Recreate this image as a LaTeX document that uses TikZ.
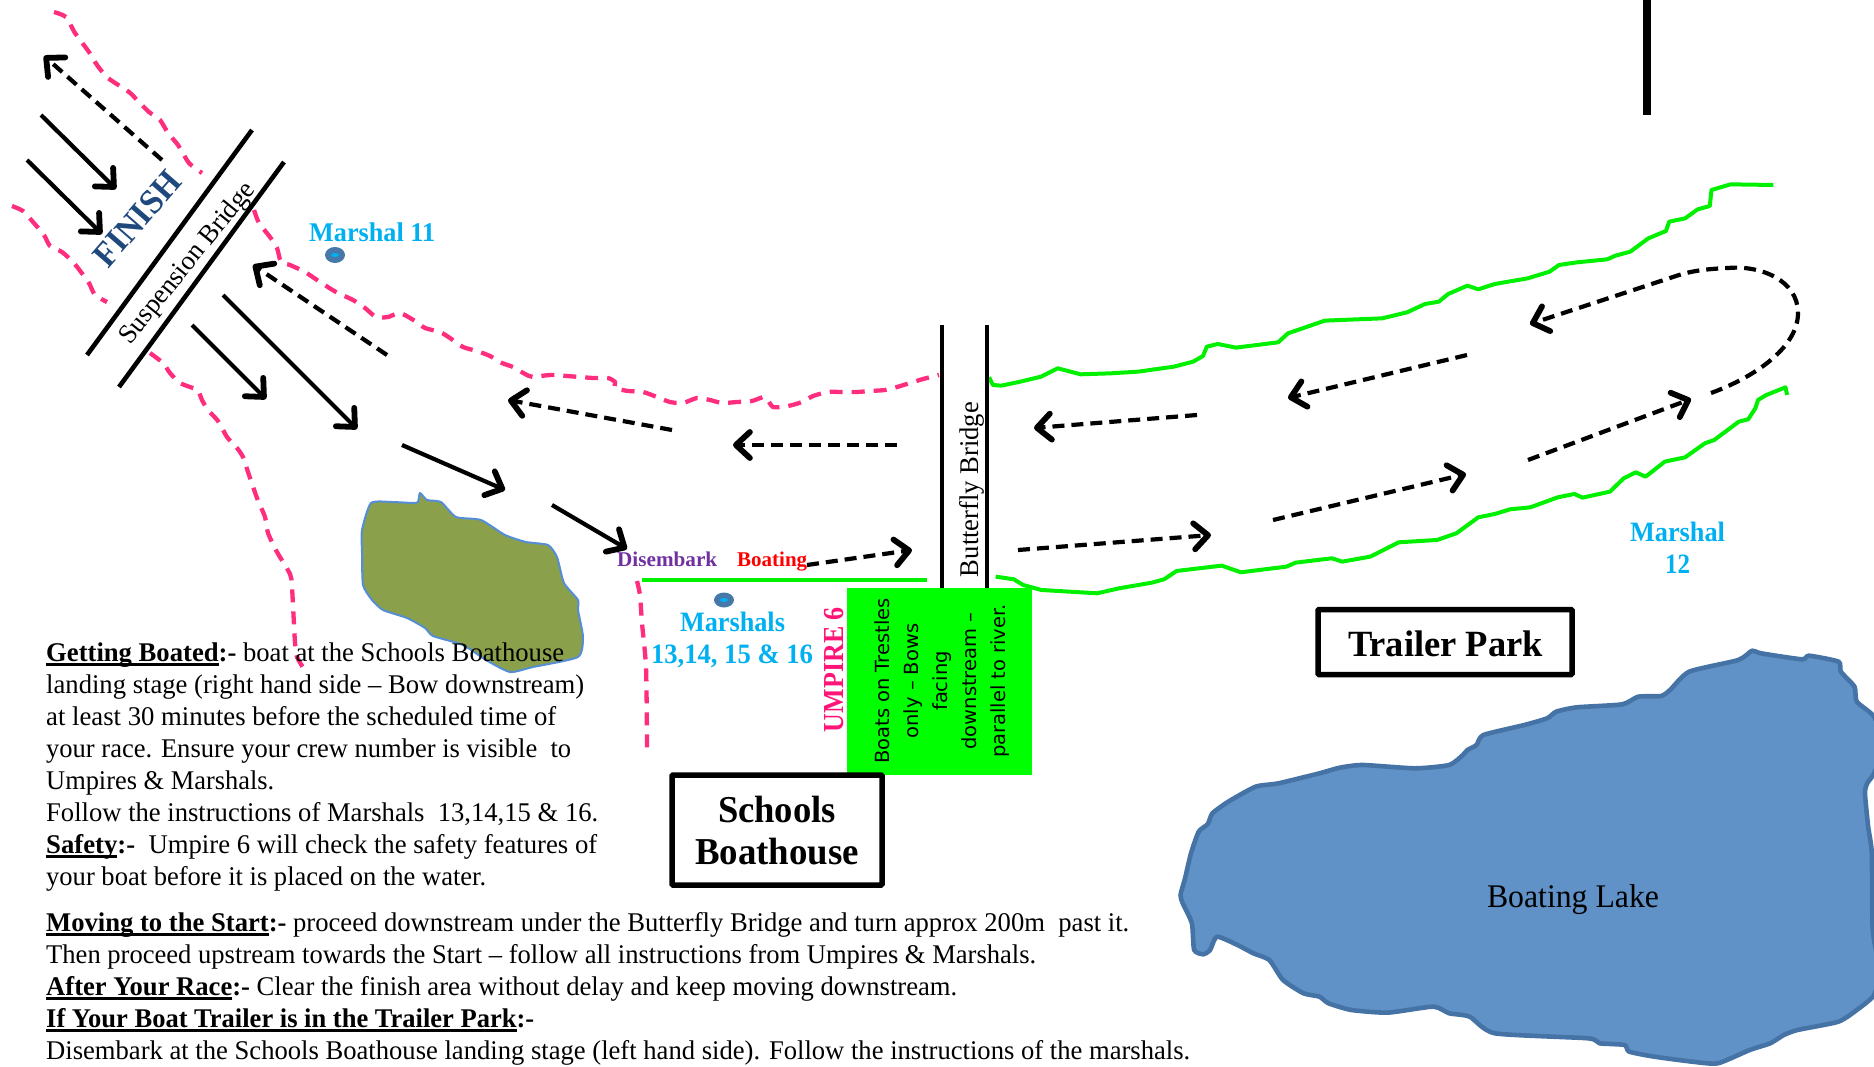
\documentclass[tikz,border=0pt]{standalone}
\usepackage{fontspec}
\usepackage{graphicx}
\setmainfont{Liberation Serif}
\newfontfamily\gfont{DejaVu Sans}
\usetikzlibrary{arrows.meta}
\definecolor{pinkbank}{RGB}{255,45,125}
\definecolor{umpink}{RGB}{255,20,120}
\definecolor{riverg}{RGB}{0,240,0}
\definecolor{boxg}{RGB}{0,255,0}
\definecolor{cyanm}{RGB}{0,176,240}
\definecolor{dotb}{RGB}{70,120,170}
\definecolor{lakef}{RGB}{96,146,199}
\definecolor{lakes}{RGB}{70,115,165}
\definecolor{islf}{RGB}{139,160,75}
\definecolor{isls}{RGB}{85,142,213}
\definecolor{finb}{RGB}{31,73,125}
\definecolor{purp}{RGB}{112,48,160}
\newcommand\fit[2]{\resizebox{#1pt}{\height}{#2}}
\newcommand\ulh[1]{\setbox0\hbox{\textbf{#1}}\rlap{\raisebox{-5pt}{\rule{\wd0}{3.2pt}}}\box0}
\tikzset{
  bank/.style={pinkbank,line width=4.3pt,dash pattern=on 13pt off 9pt,line join=round},
  river/.style={riverg,line width=4pt,line join=round},
  bridge/.style={black,line width=4.6pt},
  flow/.style={black,line width=4.2pt,-{Straight Barb[length=14pt,width=26pt,line width=5.8pt,round]}},
  dflow/.style={flow,dash pattern=on 12pt off 7pt},
  tline/.style={anchor=base west,inner sep=0pt,font=\fontsize{27}{30}\selectfont},
  lab/.style={anchor=base,inner sep=0pt},
  bigbox/.style={draw=black,line width=5.5pt,rounded corners=1pt,fill=white,inner sep=0pt},
  z3/.style={shift={(960pt,-150pt)},x=0.5485pt,y=-0.3333pt},
  z4/.style={shift={(1160pt,-620pt)},x=0.4554pt,y=-0.3333pt},
  dotout/.style={fill=dotb,draw=none},
  dotin/.style={fill=cyanm,draw=none}
}
\begin{document}
\begin{tikzpicture}[x=1pt,y=-1pt]
\useasboundingbox (0,0) rectangle (1874,1066);
\clip (0,0) rectangle (1874,1066);
% lake
\begin{scope}[z4]
\draw[fill=lakef,draw=lakes,line width=4.6pt,line join=round] plot[smooth cycle,tension=0.35] coordinates {
(45,825)(55,775)(68,700)(85,635)(105,612)(115,580)(150,545)(210,500)(260,490)(350,460)(395,443)(445,435)(560,445)(635,435)(665,405)(675,390)(695,375)(710,345)(800,315)(850,295)(870,275)(915,262)(1015,253)(1050,230)(1100,228)(1120,210)(1162,155)(1270,120)(1300,92)(1320,100)(1410,118)(1425,107)(1490,125)(1495,155)(1525,200)(1530,245)(1568,290)(1590,380)(1568,460)(1553,490)(1548,520)(1555,620)(1563,700)(1565,930)(1580,1050)(1568,1125)(1535,1165)(1490,1205)(1400,1230)(1370,1245)(1340,1270)(1295,1290)(1225,1330)(1168,1325)(1085,1310)(1030,1295)(1020,1275)(965,1270)(940,1255)(735,1240)(680,1190)(635,1180)(600,1160)(500,1178)(420,1170)(370,1150)(350,1130)(315,1120)(270,1080)(240,1020)(205,1000)(170,975)(125,950)(110,990)(95,1003)(75,990)(70,910)(50,850)};
\end{scope}
% island
\draw[fill=islf,draw=isls,line width=2pt,line join=round] plot[smooth cycle,tension=0.35] coordinates {
(362,530)(362,553)(363,585)(372,600)(383,610)(407,618)(425,628)(433,636)(463,645)(486,660)(510,672)(533,667)(578,657)(583,637)(578,610)(578,600)(564,583)(557,557)(548,545)(526,542)(505,535)(481,520)(456,517)(441,502)(427,500)(420,493)(418,502)(413,503)(392,502)(371,503)};
% pink banks
\draw[bank] plot[smooth,tension=0.4] coordinates {(54,12)(66,17)(75,33)(89,52)(97,65)(108,78)(129,92)(137,100)(149,112)(160,120)(168,133)(178,145)(189,163)(202,173)};
\draw[bank] plot[smooth,tension=0.4] coordinates {(12,206)(23,211)(33,222)(44,235)(50,246)(62,252)(73,262)(81,272)(89,283)(95,295)(107,302)};
\draw[bank] plot[smooth,tension=0.4] coordinates {(254,210)(259,223)(270,237)(277,248)(281,262)(290,265)(305,272)(320,282)(336,292)(353,300)(365,308)(376,317)(388,317)(400,313)(415,321)(425,328)(440,332)(450,338)(463,347)(477,351)(490,356)(502,363)(513,367)(525,374)(533,377)(552,375)(593,378)(608,378)(615,382)(615,388)(628,391)(643,392)(657,397)(670,402)(683,403)(697,398)(710,400)(722,403)(737,402)(752,401)(765,397)(773,407)(788,406)(802,402)(813,396)(828,392)(842,392)(857,392)(870,391)(885,390)(897,387)(910,383)(923,379)(939,375)};
\draw[bank] plot[smooth,tension=0.4] coordinates {(150,353)(163,363)(170,373)(180,383)(193,388)(198,390)(202,400)(208,410)(218,421)(227,437)(237,448)(243,457)(248,472)(257,498)(265,517)(268,533)(277,552)(290,574)(292,587)(295,643)(297,657)(304,669)};
\draw[bank] plot[smooth,tension=0.4] coordinates {(637,581)(640,595)(642,623)(646,667)(647,737)(647,750)};
% green rivers
\begin{scope}[z3]
\draw[river] plot coordinates {(53,682)(60,705)(75,707)(110,695)(148,680)(178,655)(220,673)(275,670)(325,665)(390,650)(425,635)(443,618)(450,590)(470,582)(503,593)(580,577)(598,550)(665,512)(770,505)(815,487)(848,462)(873,455)(890,432)(925,407)(945,418)(975,402)(1035,385)(1075,365)(1092,345)(1125,337)(1180,328)(1195,317)(1222,305)(1255,265)(1287,243)(1293,215)(1322,205)(1345,178)(1367,168)(1370,120)(1405,103)(1483,105)};
\draw[river] plot coordinates {(65,1280)(98,1288)(115,1305)(148,1320)(250,1330)(290,1315)(350,1298)(372,1288)(395,1263)(477,1247)(512,1267)(595,1250)(612,1238)(678,1225)(697,1235)(748,1220)(800,1177)(870,1170)(905,1150)(945,1102)(975,1092)(1003,1078)(1040,1072)(1090,1042)(1120,1032)(1135,1043)(1185,1025)(1210,985)(1232,967)(1250,980)(1285,935)(1322,922)(1358,880)(1375,870)(1420,815)(1437,808)(1450,775)(1455,750)(1470,735)(1505,712)(1508,735)};
\end{scope}
\draw[river] (642,580) -- (927,580);
% bridges
\draw[bridge] (252,130) -- (87,355);
\draw[bridge] (284,162) -- (119,387);
\draw[bridge] (942,325) -- (942,590);
\draw[bridge] (987,325) -- (987,590);
\draw[black,line width=8pt] (1647,0) -- (1647,115);
% solid flows
\draw[flow] (41,115) -- (116,189);
\draw[flow] (27,160) -- (102,234);
\draw[flow] (192,325) -- (266,399);
\draw[flow] (223,295) -- (357,429);
\draw[flow] (402,445) -- (505,490);
\draw[flow] (552,505) -- (627,549);
% dashed flows
\draw[dflow] (162,160) -- (44,56);
\draw[dflow] (387,355) -- (253,265);
\draw[dflow] (672,430) -- (508,400);
\draw[dflow] (897,445) -- (733,445);
\draw[dflow] (807,565) -- (912,550);
\draw[dflow] (1197,415) -- (1034,428);
\draw[dflow] (1467,355) -- (1288,398);
\draw[dflow] (1018,550) -- (1211,535);
\draw[dflow] (1273,520) -- (1466,474);
\draw[dflow] (1528,460) -- (1691,399);
\draw[dflow] (1711,393) .. controls (1760,375) and (1798,345) .. (1798,313) .. controls (1798,280) and (1760,265) .. (1728,268) .. controls (1705,269) and (1690,271) .. (1673,277) -- (1530,324);
% green box
\node[fill=boxg,inner sep=0pt,minimum width=185pt,minimum height=187pt] (trestle) at (939.5,681.5) {};
\node[rotate=90,inner sep=0pt,align=center,font=\gfont\fontsize{19.5}{29}\selectfont] (trestletext) at (942,681) {Boats on Trestles\\only – Bows\\facing\\downstream –\\parallel to river.};
% boxes
\node[bigbox,minimum width=210pt,minimum height=110pt] (schools) at (777,830) {};
\node[lab] (schoolsa) at (777,822) {\fit{118}{\fontsize{38}{40}\selectfont\textbf{Schools}}};
\node[lab] (schoolsb) at (777,864) {\fit{164}{\fontsize{38}{40}\selectfont\textbf{Boathouse}}};
\node[bigbox,minimum width=254pt,minimum height=65pt] (trailer) at (1445,642) {};
\node[lab] (trailertext) at (1445.5,656) {\fit{195}{\fontsize{37}{40}\selectfont\textbf{Trailer Park}}};
\node[lab] (lake) at (1573,907) {\fit{172}{\fontsize{33}{36}\selectfont Boating Lake}};
% marshals
\fill[dotout] (335,255) ellipse [x radius=10,y radius=8];
\fill[dotin] (335,255) ellipse [x radius=4,y radius=2];
\fill[dotout] (724,600) ellipse [x radius=10,y radius=7.5];
\fill[dotin] (724,600) ellipse [x radius=4,y radius=2];
\node[lab,anchor=base west,text=cyanm] (m11) at (309,241) {\fit{126}{\fontsize{27}{28}\selectfont\textbf{Marshal 11}}};
\node[lab,text=cyanm] (m13a) at (732.5,631) {\fit{105}{\fontsize{28}{30}\selectfont\textbf{Marshals}}};
\node[lab,text=cyanm] (m13b) at (732,663) {\fit{162}{\fontsize{28}{30}\selectfont\textbf{13,14, 15 \& 16}}};
\node[lab,text=cyanm] (m12a) at (1677.5,541) {\fit{95}{\fontsize{28}{30}\selectfont\textbf{Marshal}}};
\node[lab,text=cyanm] (m12b) at (1677.5,573) {\fit{25}{\fontsize{28}{30}\selectfont\textbf{12}}};
\node[lab,anchor=base west,text=purp] (dis) at (617,566) {\fit{100}{\fontsize{21}{24}\selectfont\textbf{Disembark}}};
\node[lab,anchor=base west,text=red] (boat) at (737,566) {\fit{70}{\fontsize{21}{24}\selectfont\textbf{Boating}}};
\node[lab,rotate=90,text=umpink] (ump) at (843,669.5) {\fit{125}{\fontsize{29}{30}\selectfont\textbf{UMPIRE 6}}};
\node[lab,rotate=90] (bb) at (978,489.5) {\fit{175}{\fontsize{27}{30}\selectfont Butterfly Bridge}};
\node[lab,rotate=51] (sb) at (193,268) {\fit{200}{\fontsize{27}{30}\selectfont Suspension Bridge}};
\node[lab,rotate=49,text=finb] (fin) at (146,226) {\fit{114}{\fontsize{35}{36}\selectfont\textbf{FINISH}}};
% text
\node[tline] (l1) at (46,661) {\fit{518}{\ulh{Getting Boated}\textbf{:-} boat at the Schools Boathouse}};
\node[tline] (l2) at (46,693) {\fit{538}{landing stage (right hand side – Bow downstream)}};
\node[tline] (l3) at (46,725) {\fit{510}{at least 30 minutes before the scheduled time of}};
\node[tline] (l4) at (46,757) {\fit{525}{your race. Ensure your crew number is visible\ \ to}};
\node[tline] (l5) at (46,789) {\fit{228}{Umpires \& Marshals.}};
\node[tline] (l6) at (46,821) {\fit{552}{Follow the instructions of Marshals\ \ 13,14,15 \& 16.}};
\node[tline] (l7) at (46,853) {\fit{551}{\ulh{Safety}\textbf{:-}\ \ Umpire 6 will check the safety features of}};
\node[tline] (l8) at (46,885) {\fit{440}{your boat before it is placed on the water.}};
\node[tline] (l9) at (46,931) {\fit{1083}{\ulh{Moving to the Start}\textbf{:-} proceed downstream under the Butterfly Bridge and turn approx 200m\ \ past it.}};
\node[tline] (l10) at (46,963) {\fit{990}{Then proceed upstream towards the Start – follow all instructions from Umpires \& Marshals.}};
\node[tline] (l11) at (46,995) {\fit{911}{\ulh{After Your Race}\textbf{:-} Clear the finish area without delay and keep moving downstream.}};
\node[tline] (l12) at (46,1027) {\fit{488}{\ulh{If Your Boat Trailer is in the Trailer Park}\textbf{:-}}};
\node[tline] (l13) at (46,1059) {\fit{1144}{Disembark at the Schools Boathouse landing stage (left hand side). Follow the instructions of the marshals.}};
\end{tikzpicture}
\end{document}
